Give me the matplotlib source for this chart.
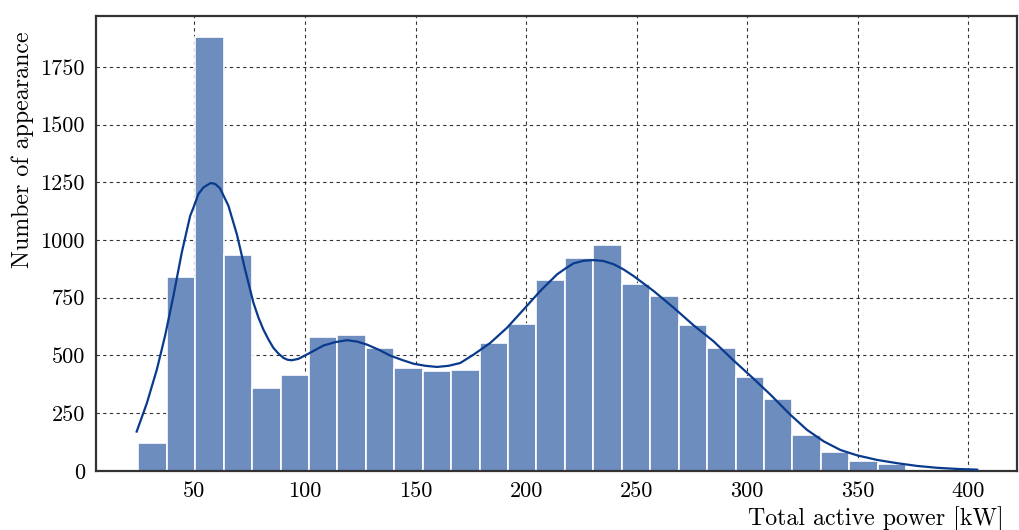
import numpy as np
import matplotlib
matplotlib.use("Agg")
import matplotlib.pyplot as plt

plt.rcParams['font.family'] = 'serif'
plt.rcParams['font.serif'] = ['cmr10', 'DejaVu Serif']
plt.rcParams['mathtext.fontset'] = 'cm'
plt.rcParams['axes.unicode_minus'] = False

# histogram: left edge of first bin, bin width, counts
bin_start = 24.66
bin_width = 12.86
counts = [122, 841, 1879, 935, 357, 417, 579, 587, 533, 447, 431, 437, 553, 638,
          825, 921, 979, 811, 756, 633, 530, 407, 312, 156, 83, 43, 31]

# density curve
kde_x = [23.9, 28.5, 33.0, 36.7, 40.5, 44.3, 48.1, 49.6, 51.8, 54.1, 57.4, 59.4,
         61.6, 65.4, 69.2, 72.9, 76.7, 79.0, 81.2, 83.5, 85.7, 88.0, 90.3, 92.2,
         94.1, 97.0, 100.1, 104.0, 108.4, 113.5, 119.0, 123.5, 128.0, 133.5,
         138.6, 144.0, 149.1, 154.5, 159.7, 165.0, 170.2, 176.2, 183.8, 191.4,
         198.9, 206.4, 214.0, 218.0, 221.5, 226.0, 230.5, 235.0, 239.6, 244.0,
         248.6, 257.7, 266.7, 275.8, 284.8, 293.4, 302.2, 310.5, 319.5, 327.1,
         334.7, 342.2, 349.7, 358.8, 367.8, 376.9, 385.9, 395.0, 404.0]
kde_y = [170, 293, 438, 583, 757, 946, 1105, 1141, 1199, 1228, 1247, 1243,
         1224, 1148, 1025, 873, 728, 663, 612, 569, 533, 508, 489, 481,
         479, 485, 500, 520, 543, 557, 566, 560, 547, 524,
         499, 480, 464, 455, 450, 455, 467, 503, 554, 620,
         699, 779, 851, 878, 899, 910, 913, 909, 895, 873,
         844, 779, 707, 630, 561, 482, 405, 330, 243, 177,
         127, 90, 67, 47, 33, 21, 13, 8, 5]

edges = bin_start + bin_width * np.arange(len(counts))

fig = plt.figure(figsize=(10.19, 5.30), dpi=100)
ax = fig.add_axes([0.0942, 0.1117, 0.9038, 0.8587])

ax.bar(edges, counts, width=bin_width, align='edge', color='#6d8dbf',
       edgecolor='white', linewidth=1.2, zorder=2)
ax.plot(kde_x, kde_y, color='#0a3a8c', linewidth=1.6, zorder=3)

ax.set_xlim(5.5, 422)
ax.set_ylim(0, 1972)
ax.set_xticks([50, 100, 150, 200, 250, 300, 350, 400])
ax.set_yticks([0, 250, 500, 750, 1000, 1250, 1500, 1750])
ax.tick_params(length=0, labelsize=16, pad=8)
ax.grid(True, color='black', linestyle=(0, (3, 3)), linewidth=0.8, alpha=0.8, zorder=1)
ax.set_axisbelow(True)
for s in ax.spines.values():
    s.set_color('#333333')
    s.set_linewidth(1.6)

ax.set_xlabel('Total active power [kW]', fontsize=17.2, ha='right', va='top')
ax.xaxis.set_label_coords(0.985, -0.077)
ax.set_ylabel('Number of appearance', fontsize=17.2, va='center')
ax.yaxis.set_label_coords(-0.08, 0.705)

fig.savefig('out.png', dpi=100)
